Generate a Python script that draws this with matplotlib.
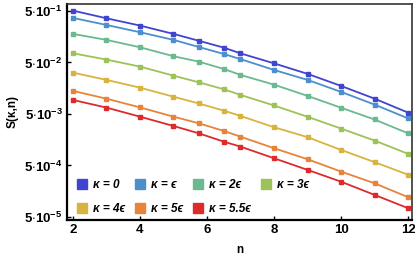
import matplotlib
matplotlib.use("Agg")
import matplotlib.pyplot as plt
from matplotlib.ticker import FixedLocator, NullLocator

plt.rcParams["font.family"] = ["Liberation Sans", "DejaVu Sans"]
plt.rcParams["font.weight"] = "bold"
plt.rcParams["mathtext.fontset"] = "custom"
plt.rcParams["mathtext.bf"] = "Liberation Sans:bold"
plt.rcParams["mathtext.rm"] = "Liberation Sans:bold"

n_vals = [2, 3, 4, 5, 5.75, 6.5, 7, 8, 9, 10, 11, 12]

s_k0 = [0.507, 0.36, 0.26, 0.179, 0.132, 0.097, 0.075, 0.048, 0.030, 0.0175, 0.0099, 0.0053]
s_k1 = [0.366, 0.267, 0.193, 0.137, 0.100, 0.073, 0.058, 0.0357, 0.0229, 0.0134, 0.0076, 0.0041]
s_k2 = [0.179, 0.137, 0.0986, 0.066, 0.0519, 0.0374, 0.0286, 0.0185, 0.0112, 0.0066, 0.0039, 0.0021]
s_k3 = [0.0753, 0.0568, 0.0415, 0.0277, 0.0206, 0.0151, 0.0117, 0.0073, 0.0044, 0.0026, 0.00152, 0.00084]
s_k4 = [0.0317, 0.0229, 0.0162, 0.0108, 0.0080, 0.0058, 0.00457, 0.00276, 0.00177, 0.0010, 0.00058, 0.00033]
s_k5 = [0.0140, 0.0099, 0.0067, 0.00443, 0.0033, 0.00234, 0.00181, 0.00108, 0.00066, 0.00038, 0.000225, 0.000121]
s_k55 = [0.00935, 0.00664, 0.00443, 0.00292, 0.00211, 0.00145, 0.00116, 0.00069, 0.00041, 0.000242, 0.000134, 0.000074]

series = [s_k0, s_k1, s_k2, s_k3, s_k4, s_k5, s_k55]
labels = ["κ = 0", "κ = ϵ", "κ = 2ϵ", "κ = 3ϵ", "κ = 4ϵ", "κ = 5ϵ", "κ = 5.5ϵ"]
colors = ["#4144cf", "#4b8fcc", "#6bb98f", "#9dc257", "#d8b43e", "#e8843a", "#dd2a2a"]

y_ticks = [5e-1, 5e-2, 5e-3, 5e-4, 5e-5]
y_ticklabels = [r"$\mathbf{5{\cdot}10^{-1}}$", r"$\mathbf{5{\cdot}10^{-2}}$",
                r"$\mathbf{5{\cdot}10^{-3}}$", r"$\mathbf{5{\cdot}10^{-4}}$",
                r"$\mathbf{5{\cdot}10^{-5}}$"]
x_ticks = [2, 4, 6, 8, 10, 12]

fig = plt.figure(figsize=(4.15, 2.6), dpi=100)
ax = fig.add_axes([0.161, 0.154, 0.832, 0.831])

for vals, lab, col in zip(series, labels, colors):
    ax.plot(n_vals, vals, color=col, lw=1.3, marker="s", ms=2.6, label=lab)

ax.set_yscale("log")
ax.set_xlim(1.82, 12.12)
ax.set_ylim(4.37e-5, 0.684)
ax.yaxis.set_major_locator(FixedLocator(y_ticks))
ax.set_yticklabels(y_ticklabels)
ax.yaxis.set_minor_locator(NullLocator())
ax.set_xticks(x_ticks)
ax.tick_params(direction="in", length=3, width=1, labelsize=9.5,
               top=False, right=False, pad=3)

ax.set_xlabel("n", fontsize=8.5, fontweight="bold", labelpad=6)
ax.set_ylabel("S(κ,n)", fontsize=8.5, fontweight="bold", labelpad=4)

for side in ["left", "bottom"]:
    ax.spines[side].set_linewidth(1.6)
    ax.spines[side].set_color("black")
for side in ["top", "right"]:
    ax.spines[side].set_linewidth(1.2)
    ax.spines[side].set_color("#333333")

# legend: 4 entries on the first row, 3 on the second
order = [0, 4, 1, 5, 2, 6, 3]
leg_handles = []
for i in order:
    lh, = ax.plot([], [], ls="none", marker="s", ms=7, color=colors[i],
                  label=labels[i])
    leg_handles.append(lh)
ax.legend(handles=leg_handles, labels=[labels[i] for i in order], ncol=4,
          loc="lower left", bbox_to_anchor=(0.0, -0.025), frameon=False,
          handlelength=0.8, handletextpad=0.5, columnspacing=0.9,
          labelspacing=1.0, prop={"size": 8.5, "weight": "bold",
                                  "style": "italic"})

fig.savefig("out.png", dpi=100)
